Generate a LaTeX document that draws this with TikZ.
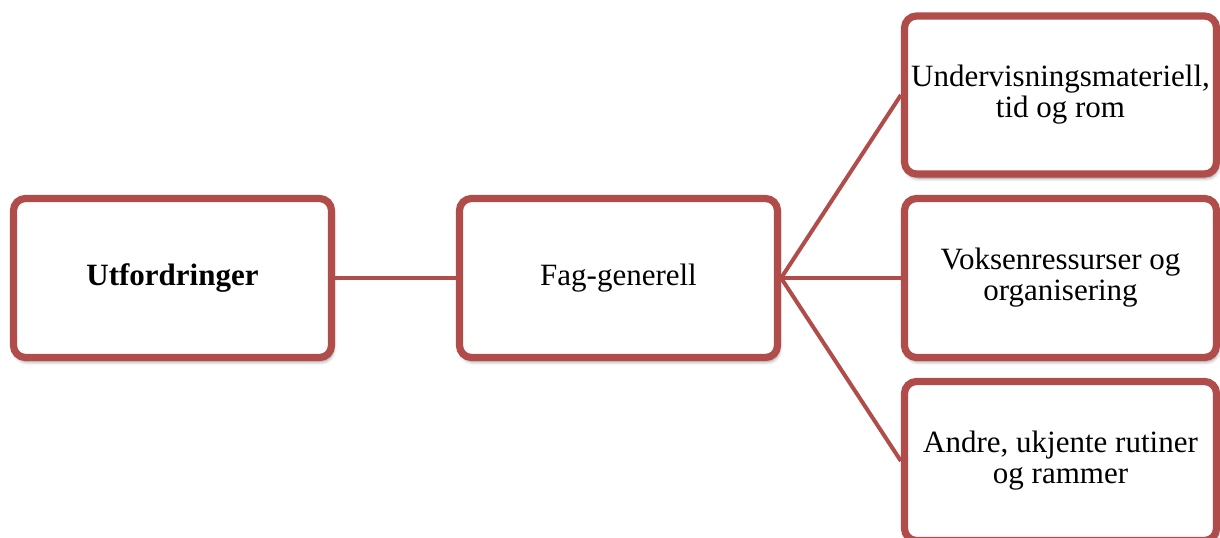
\documentclass[tikz,border=0pt]{standalone}
\usepackage{fontspec}
\setmainfont{Liberation Serif}
\usetikzlibrary{shadows.blur}
\definecolor{boxred}{RGB}{176,76,74}

\begin{document}
\begin{tikzpicture}[x=0.5pt,y=0.5pt,yscale=-1,
    box/.style={draw=boxred, line width=3.6pt, rounded corners=6pt, fill=white,
      minimum width=159pt, minimum height=79.5pt, align=center, inner sep=0pt,
      font=\fontsize{15.5}{15.5}\selectfont,
      blur shadow={shadow xshift=0.8pt, shadow yshift=-2pt, shadow blur steps=6, shadow opacity=45}},
    link/.style={draw=boxred, line width=2pt}]
  %set diagram to 1220 x 537
  \clip (0,0) rectangle (1220,537);

  %Shape: Rounded Rect
  \node [box] (utf) at (172.5,278) {\textbf{Utfordringer}};
  %Shape: Rounded Rect
  \node [box] (fag) at (618.5,278) {Fag-generell};
  %Shape: Rounded Rect
  \node [box, minimum width=156pt, minimum height=79pt] (mat) at (1060.5,95) {Undervisningsmateriell,\\tid og rom};
  %Shape: Rounded Rect
  \node [box, minimum width=156pt] (vok) at (1060.5,278) {Voksenressurser og\\organisering};
  %Shape: Rounded Rect
  \node [box, minimum width=156pt] (andre) at (1060.5,461) {Andre, ukjente rutiner\\og rammer};

  %Straight Lines
  \draw [link] (utf.east) -- (fag.west);
  \draw [link] (fag.east) -- (mat.west);
  \draw [link] (fag.east) -- (vok.west);
  \draw [link] (fag.east) -- (andre.west);
\end{tikzpicture}
\end{document}
